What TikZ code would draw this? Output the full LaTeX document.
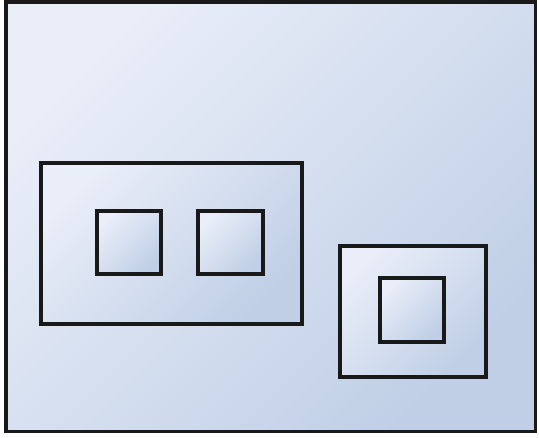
\documentclass[tikz,border=0pt]{standalone}
\begin{document}
\begin{tikzpicture}[x=0.02cm,y=-0.02cm,
  panel/.style={draw=black!90, line width=1.8pt, inner sep=0pt, outer sep=0pt,
    anchor=north west, top color=light, bottom color=deep, shading angle=45},
  ]
  \definecolor{light}{HTML}{E9EEF8}
  \definecolor{deep}{HTML}{C0CFE6}
  \useasboundingbox (0,0) rectangle (539,438);
  \fill[white] (0,0) rectangle (539,438);
  % outer frame
  \node[panel, minimum width=10.6cm, minimum height=8.6cm] (outer) at (6,2) {};
  % left group with two squares
  \node[panel, minimum width=5.22cm, minimum height=3.22cm] (left) at (41,163) {};
  \node[panel, minimum width=1.28cm, minimum height=1.26cm] (sqa) at (97,211) {};
  \node[panel, minimum width=1.3cm, minimum height=1.26cm] (sqb) at (198,211) {};
  % right group with one square
  \node[panel, minimum width=2.92cm, minimum height=2.62cm] (right) at (340,246) {};
  \node[panel, minimum width=1.28cm, minimum height=1.28cm] (sqc) at (380,278) {};
\end{tikzpicture}
\end{document}
